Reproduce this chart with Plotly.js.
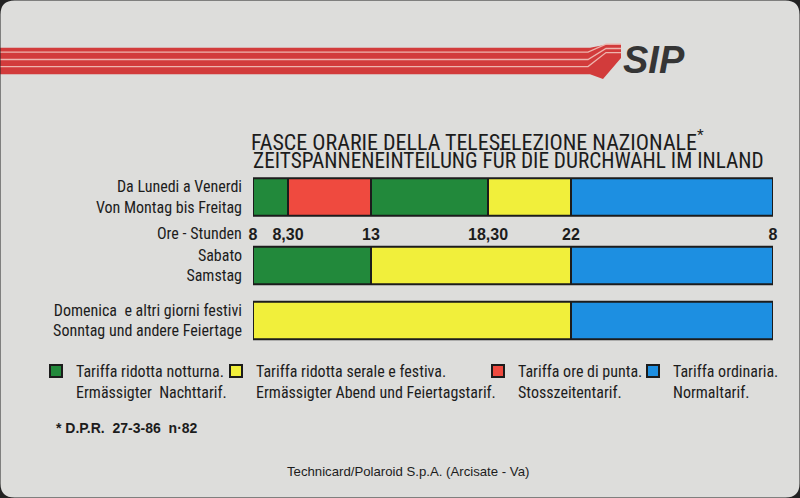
<!DOCTYPE html>
<html><head><meta charset="utf-8">
<script src="https://cdn.plot.ly/plotly-3.0.1.min.js"></script>
<style>html,body{margin:0;padding:0;background:#dcdcd9;} #chart{width:800px;height:498px;}</style>
</head><body><div id="chart"></div>
<script>
// ================= DATA =================
const rowLabels = [
  "Da Lunedi a Venerdi<br>Von Montag bis Freitag",
  "Sabato<br>Samstag",
  "Domenica  e altri giorni festivi<br>Sonntag und andere Feiertage"
];
const tariffNames = [
  "Tariffa ridotta notturna.<br>Ermässigter  Nachttarif.",
  "Tariffa ridotta serale e festiva.<br>Ermässigter Abend und Feiertagstarif.",
  "Tariffa ore di punta.<br>Stosszeitentarif.",
  "Tariffa ordinaria.<br>Normaltarif."
];
// start hour of each band, and the tariff (index into tariffNames) of that band
const weekdayStarts  = [8, 8.5, 13, 18.5, 22];
const weekdayTariff  = [0, 2, 0, 1, 3];
const saturdayStarts = [8, 13, 22];
const saturdayTariff = [0, 1, 3];
const holidayStarts  = [8, 22];
const holidayTariff  = [1, 3];
const dayEndHour = 32;                       // 8 o'clock the next morning
const hourTicks    = [8, 8.5, 13, 18.5, 22, 32];
const hourTickText = ["8", "8,30", "13", "18,30", "22", "8"];

// ================= STYLE / LAYOUT =================
const W = 800, H = 498;
const fx = px => px / W, fy = py => 1 - py / H;
const narrow = "'Roboto Condensed', 'Liberation Sans Narrow', 'DejaVu Sans Condensed', sans-serif";
const sans = "'Liberation Sans', Arial, Helvetica, sans-serif";
const ink = '#1c1c1c';
const tariffColors = ['#22893b', '#f1ef3b', '#ef4a3f', '#1d8fe1'];
// the card's hour scale is schematic, not proportional: pixel edges of each hour interval
const pieceEdgesPx = [253, 288, 371, 488, 571, 773];
const legendXPx = [36, 216, 478, 633];
const rowGroup = [0, 1, 1];            // weekday on y, Saturday/holiday on y2
const yIds = ['y', 'y2'];
const legendIds = ['legend', 'legend2', 'legend3', 'legend4'];
const barWidth = 0.68;

// ================= BUILD =================
const rowStarts = [weekdayStarts, saturdayStarts, holidayStarts];
const rowTariffs = [weekdayTariff, saturdayTariff, holidayTariff];
const segs = [];
rowStarts.forEach((st, r) => st.forEach((s, i) => segs.push({
  row: r, start: s, end: i + 1 < st.length ? st[i + 1] : dayEndHour, tariff: rowTariffs[r][i]
})));

const traces = [];
const seen = {};
for (let t = 0; t < tariffNames.length; t++) {
  for (let p = 0; p < hourTicks.length - 1; p++) {
    for (let g = 0; g < 2; g++) {
      const lo = hourTicks[p], hi = hourTicks[p + 1];
      const ss = segs.filter(s => s.tariff === t && rowGroup[s.row] === g && s.start < hi && s.end > lo);
      if (!ss.length) continue;
      traces.push({
        type: 'bar', orientation: 'h',
        y: ss.map(s => rowLabels[s.row]),
        base: ss.map(s => s.start),
        x: ss.map(s => s.end - s.start),
        xaxis: p === 0 ? 'x' : 'x' + (p + 1),
        yaxis: yIds[g],
        name: tariffNames[t], legendgroup: 't' + t, showlegend: !seen[t], legend: legendIds[t],
        width: barWidth,
        marker: {color: tariffColors[t], line: {color: ink, width: 2}},
        hoverinfo: 'skip'
      });
      seen[t] = true;
    }
  }
}

const layout = {
  width: W, height: H,
  margin: {l: 0, r: 0, t: 0, b: 0, pad: 0},
  paper_bgcolor: '#dddddb', plot_bgcolor: 'rgba(0,0,0,0)',
  barmode: 'overlay', showlegend: true,
  font: {family: narrow, color: ink},
  title: {
    text: 'FASCE ORARIE DELLA TELESELEZIONE NAZIONALE<sup>*</sup>',
    x: fx(251), xanchor: 'left', xref: 'paper', yref: 'paper', y: fy(142), yanchor: 'middle',
    font: {family: narrow, size: 22, color: ink}
  },
  yaxis: {
    domain: [fy(224.5), fy(169.5)], anchor: 'x', type: 'category',
    categoryorder: 'array', categoryarray: [rowLabels[0]], range: [-0.5, 0.5],
    ticks: '', showgrid: false, zeroline: false, showline: false, ticklabelstandoff: 10,
    tickfont: {family: narrow, size: 16, color: ink}, fixedrange: true
  },
  yaxis2: {
    domain: [fy(348), fy(238)], anchor: 'x', type: 'category',
    categoryorder: 'array', categoryarray: [rowLabels[2], rowLabels[1]], range: [-0.5, 1.5],
    ticks: '', showgrid: false, zeroline: false, showline: false, ticklabelstandoff: 10,
    tickfont: {family: narrow, size: 16, color: ink}, fixedrange: true
  },
  annotations: [
    {text: 'ZEITSPANNENEINTEILUNG FÜR DIE DURCHWAHL IM INLAND', xref: 'paper', yref: 'paper',
     x: fx(251), y: fy(160), xanchor: 'left', yanchor: 'middle', showarrow: false,
     font: {family: narrow, size: 21.3, color: ink}},
    {text: 'Ore - Stunden', xref: 'paper', yref: 'paper', x: fx(244), y: fy(233),
     xanchor: 'right', yanchor: 'middle', showarrow: false, font: {family: narrow, size: 16, color: ink}},
    {text: '* D.P.R.  27-3-86  n·82', xref: 'paper', yref: 'paper', x: fx(54), y: fy(428),
     xanchor: 'left', yanchor: 'middle', showarrow: false,
     font: {family: sans, size: 14, weight: 'bold', color: ink}},
    {text: 'Technicard/Polaroid S.p.A. (Arcisate - Va)', xref: 'paper', yref: 'paper', x: fx(285), y: fy(471),
     xanchor: 'left', yanchor: 'middle', showarrow: false, font: {family: sans, size: 13.2, color: ink}},
    {text: 'SIP', xref: 'paper', yref: 'paper', x: fx(654), y: fy(60),
     xanchor: 'center', yanchor: 'middle', showarrow: false,
     font: {family: sans, size: 38, weight: 'bold', style: 'italic', color: '#353535'}}
  ],
  shapes: []
};

legendIds.forEach((id, t) => {
  layout[id] = {
    x: fx(legendXPx[t]), xanchor: 'left', y: fy(354), yanchor: 'top',
    font: {family: narrow, size: 16, color: ink}, bgcolor: 'rgba(0,0,0,0)', borderwidth: 0,
    valign: 'top', itemwidth: 30, itemclick: false, itemdoubleclick: false
  };
});

for (let p = 0; p < hourTicks.length - 1; p++) {
  const last = p === hourTicks.length - 2;
  layout['xaxis' + (p ? p + 1 : '')] = {
    domain: [fx(pieceEdgesPx[p]), fx(pieceEdgesPx[p + 1])],
    range: [hourTicks[p], hourTicks[p + 1]],
    anchor: 'free', position: fy(223),
    showgrid: false, zeroline: false, showline: false, ticks: '',
    tickmode: 'array',
    tickvals: last ? [hourTicks[p], hourTicks[p + 1]] : [hourTicks[p]],
    ticktext: last ? [hourTickText[p], hourTickText[p + 1]] : [hourTickText[p]],
    tickfont: {family: sans, size: 16, weight: 'bold', color: ink},
    fixedrange: true
  };
}

// ---- decoration: SIP stripes and card corners ----
const P = (x, y) => fx(x) + ',' + fy(y);
const red = '#d23b3b', pale = '#eeb5ae';
layout.shapes.push({type: 'path', xref: 'paper', yref: 'paper', layer: 'below',
  path: `M${P(0,47.7)} L${P(590,47.7)} L${P(607,44.5)} L${P(621,44.5)} L${P(621,58)} L${P(603,79)} L${P(590,74.3)} L${P(0,74.3)} Z`,
  fillcolor: red, line: {width: 0}});
[[52.2, 8], [59.5, 11], [66.6, 14]].forEach(([yy, d]) => layout.shapes.push({
  type: 'path', xref: 'paper', yref: 'paper', layer: 'below',
  path: `M${P(0,yy)} L${P(588,yy)} L${P(606,yy-d)} L${P(621,yy-d)}`,
  line: {color: pale, width: 1.3}}));
const r = 14, e = 0.5;
layout.shapes.push({type: 'path', xref: 'paper', yref: 'paper', layer: 'above', fillrule: 'evenodd',
  path: `M${P(-1,-1)} L${P(801,-1)} L${P(801,499)} L${P(-1,499)} Z ` +
        `M${P(e+r,e)} L${P(W-e-r,e)} Q${P(W-e,e)} ${P(W-e,e+r)} L${P(W-e,H-e-r)} Q${P(W-e,H-e)} ${P(W-e-r,H-e)} ` +
        `L${P(e+r,H-e)} Q${P(e,H-e)} ${P(e,H-e-r)} L${P(e,e+r)} Q${P(e,e)} ${P(e+r,e)} Z`,
  fillcolor: '#222222', line: {width: 0}});

Plotly.newPlot('chart', traces, layout, {staticPlot: true, displayModeBar: false});
</script></body></html>
